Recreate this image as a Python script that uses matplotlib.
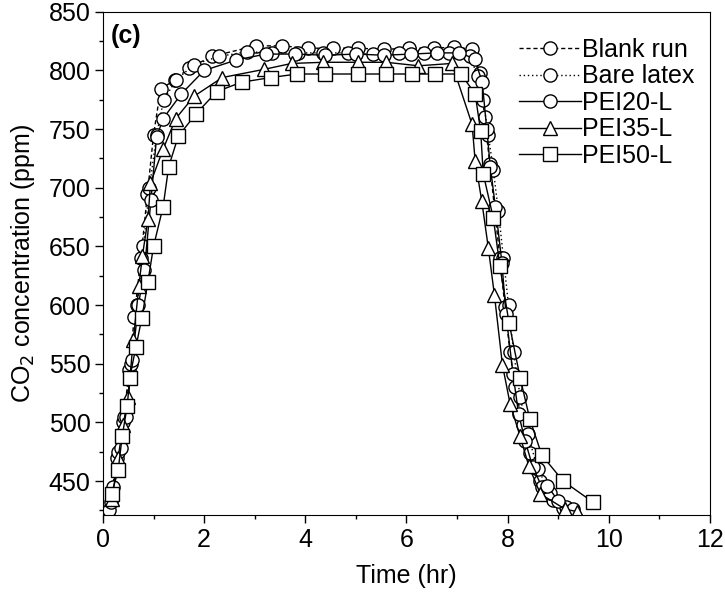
import matplotlib.pyplot as plt

# Blank run (dashed line, open circles)
blank_t = [0.12, 0.28, 0.40, 0.52, 0.62, 0.75, 0.88, 1.00, 1.14, 1.42, 1.70, 2.15,
           3.02, 3.55, 4.05, 4.55, 5.05, 5.55, 6.05, 6.55, 6.95, 7.30, 7.45, 7.55,
           7.65, 7.75, 7.85, 7.95, 8.05, 8.15, 8.30, 8.45, 8.65, 8.90, 9.10]
blank_c = [425, 470, 500, 545, 590, 640, 695, 745, 784, 792, 802, 812,
           821, 821, 819, 819, 819, 818, 819, 819, 820, 818, 798, 760,
           720, 680, 640, 598, 560, 530, 498, 474, 450, 434, 427]

# Bare latex (dotted line, open circles)
bare_t = [0.15, 0.30, 0.42, 0.55, 0.68, 0.80, 0.92, 1.06, 1.20, 1.45, 1.80, 2.30,
          2.85, 3.35, 3.85, 4.35, 4.85, 5.35, 5.85, 6.35, 6.85, 7.25, 7.42, 7.52,
          7.62, 7.72, 7.82, 7.92, 8.02, 8.12, 8.25, 8.40, 8.60, 8.85, 9.15]
bare_c = [432, 475, 505, 550, 600, 650, 700, 745, 775, 792, 805, 812,
          816, 815, 815, 815, 815, 814, 815, 815, 815, 812, 795, 775,
          745, 715, 680, 640, 600, 560, 522, 490, 460, 440, 428]

# PEI20-L (solid line, open circles)
pei20_t = [0.20, 0.35, 0.45, 0.58, 0.70, 0.82, 0.95, 1.06, 1.19, 1.55, 2.00, 2.64,
           3.22, 3.80, 4.40, 5.00, 5.55, 6.10, 6.60, 7.05, 7.35, 7.50, 7.59, 7.66,
           7.76, 7.89, 7.97, 8.11, 8.22, 8.35, 8.50, 8.68, 8.79, 9.00, 9.30]
pei20_c = [445, 478, 505, 553, 600, 630, 690, 743, 759, 780, 800, 809,
           814, 814, 813, 814, 813, 814, 815, 815, 810, 790, 750, 718,
           684, 636, 592, 541, 507, 484, 462, 445, 446, 433, 426]

# PEI35-L (solid line, open triangles)
pei35_t = [0.18, 0.30, 0.40, 0.50, 0.60, 0.71, 0.78, 0.89, 0.94, 1.19, 1.44, 1.80,
           2.36, 3.19, 3.73, 4.36, 5.04, 5.60, 6.24, 6.90, 7.30, 7.36, 7.49, 7.62,
           7.74, 7.90, 8.05, 8.25, 8.42, 8.65, 9.14, 9.37]
pei35_c = [435, 470, 498, 522, 570, 616, 642, 673, 704, 733, 759, 778,
           794, 801, 806, 807, 807, 807, 804, 806, 754, 723, 689, 649,
           609, 549, 516, 488, 463, 439, 426, 424]

# PEI50-L (solid line, open squares)
pei50_t = [0.17, 0.30, 0.38, 0.48, 0.53, 0.65, 0.77, 0.89, 1.00, 1.19, 1.30, 1.49,
           1.84, 2.25, 2.74, 3.32, 3.84, 4.39, 5.05, 5.60, 6.12, 6.57, 7.08, 7.36,
           7.47, 7.52, 7.72, 7.85, 8.03, 8.25, 8.44, 8.68, 9.10, 9.69]
pei50_c = [439, 459, 488, 514, 538, 564, 589, 620, 650, 684, 718, 744,
           763, 782, 790, 794, 797, 797, 797, 797, 797, 797, 797, 780,
           748, 712, 674, 633, 585, 538, 503, 472, 450, 432]

series = [
    (blank_t, blank_c, "Blank run", (0, (3, 2)), "o"),
    (bare_t, bare_c, "Bare latex", (0, (1, 2)), "o"),
    (pei20_t, pei20_c, "PEI20-L", "-", "o"),
    (pei35_t, pei35_c, "PEI35-L", "-", "^"),
    (pei50_t, pei50_c, "PEI50-L", "-", "s"),
]

plt.rcParams['font.family'] = ['Liberation Sans', 'DejaVu Sans']

fig = plt.figure(figsize=(7.25, 5.92), dpi=100)
ax = fig.add_axes([0.142, 0.130, 0.837, 0.850])

for t, c, name, ls, mk in series:
    ax.plot(t, c, linestyle=ls, color="black", linewidth=1.0, marker=mk,
            markersize=9.5, markerfacecolor="white", markeredgecolor="black",
            markeredgewidth=1.0, label=name)

ax.set_xlim(0, 12)
ax.set_ylim(421, 850)
ax.set_xticks(range(0, 13, 2))
ax.set_xticks(range(1, 12, 2), minor=True)
ax.set_yticks(range(450, 851, 50))
ax.set_yticks(range(425, 851, 50), minor=True)
ax.tick_params(axis="both", which="major", direction="out", length=6, width=1,
               labelsize=18, pad=3, top=False, right=False)
ax.tick_params(axis="both", which="minor", direction="out", length=3, width=1,
               top=False, right=False)

ax.set_xlabel("Time (hr)", fontsize=18, labelpad=9)
ax.set_ylabel("CO$_2$ concentration (ppm)", fontsize=18, labelpad=8)

ax.text(0.013, 0.975, "(c)", transform=ax.transAxes, fontsize=18,
        fontweight="bold", va="top", ha="left")

ax.legend(loc="upper right", frameon=False, fontsize=18, handlelength=2.5,
          handletextpad=0.05, labelspacing=0.1, borderaxespad=0.2,
          bbox_to_anchor=(1.0, 0.978))

fig.savefig("out.png", dpi=100)
